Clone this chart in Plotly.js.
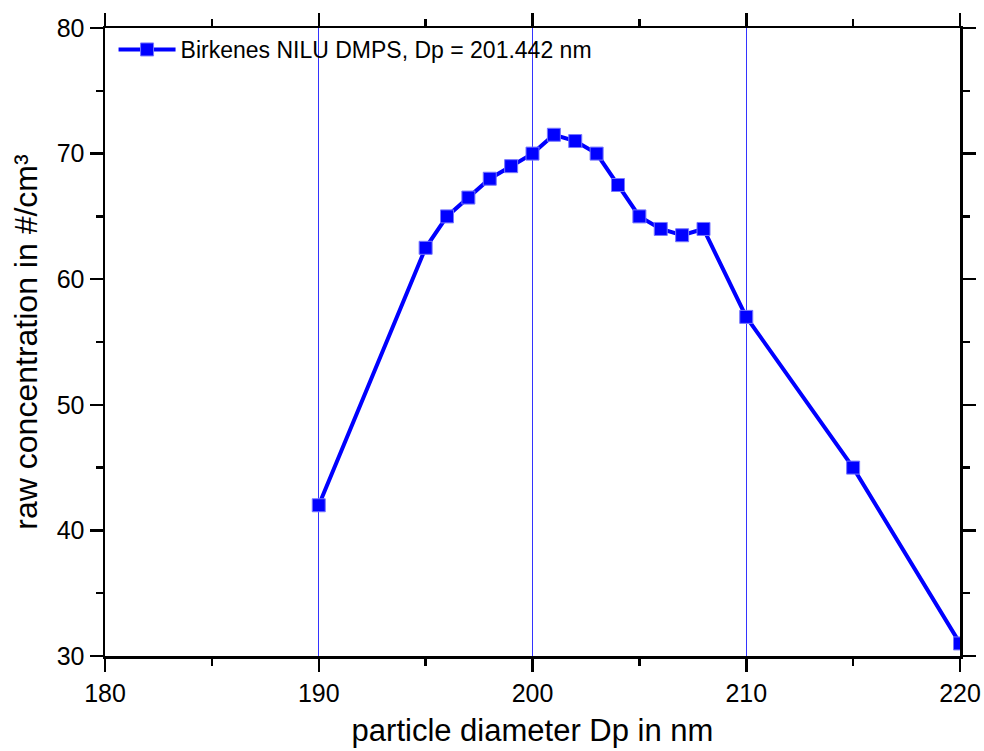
<!DOCTYPE html>
<html>
<head>
<meta charset="utf-8">
<script src="https://cdn.plot.ly/plotly-3.0.1.min.js"></script>
<style>html,body{margin:0;padding:0;background:#fff;}#chart{width:984px;height:751px;}</style>
</head>
<body>
<div id="chart"></div>
<script>
const diameters = [190, 195, 196, 197, 198, 199, 200, 201, 202, 203, 204, 205, 206, 207, 208, 210, 215, 220];
const concentrations = [42.0, 62.5, 65.0, 66.5, 68.0, 69.0, 70.0, 71.5, 71.0, 70.0, 67.5, 65.0, 64.0, 63.5, 64.0, 57.0, 45.0, 31.0];
const seriesName = 'Birkenes NILU DMPS, Dp = 201.442 nm';
const xTickValues = [180, 190, 200, 210, 220];
const yTickValues = [30, 40, 50, 60, 70, 80];

const font = '"Liberation Sans", Arial, sans-serif';

const trace = {
  x: diameters,
  y: concentrations,
  type: 'scatter',
  mode: 'lines+markers',
  name: seriesName,
  line: {color: '#0000ff', width: 4},
  marker: {symbol: 'square', size: 13, color: '#0000ff', line: {color: '#7777ff', width: 1}}
};

const axisCommon = {
  showline: true, linecolor: '#000', linewidth: 2.5, mirror: 'allticks',
  ticks: 'outside', ticklen: 13, tickwidth: 2.5, tickcolor: '#000',
  zeroline: false,
  tickfont: {family: font, size: 25, color: '#000'}
};

const layout = {
  width: 984, height: 751,
  margin: {l: 105, r: 24, t: 28, b: 95},
  paper_bgcolor: '#fff', plot_bgcolor: '#fff',
  showlegend: true,
  legend: {
    x: 0.01, y: 1.0, xanchor: 'left', yanchor: 'top',
    bgcolor: 'rgba(0,0,0,0)', borderwidth: 0,
    font: {family: font, size: 23, color: '#000'},
    itemwidth: 57
  },
  xaxis: Object.assign({}, axisCommon, {
    range: [180, 220], tickmode: 'array', tickvals: xTickValues,
    showgrid: true, gridcolor: '#3333ff', gridwidth: 1,
    minor: {dtick: 5, ticks: 'outside', ticklen: 7, tickwidth: 2.5, tickcolor: '#000', showgrid: false},
    title: {text: 'particle diameter Dp in nm', font: {family: font, size: 31, color: '#000'}, standoff: 14}
  }),
  yaxis: Object.assign({}, axisCommon, {
    range: [30, 80], tickmode: 'array', tickvals: yTickValues,
    showgrid: false,
    minor: {dtick: 5, ticks: 'outside', ticklen: 7, tickwidth: 2.5, tickcolor: '#000', showgrid: false},
    title: {text: 'raw concentration in #/cm³', font: {family: font, size: 32, color: '#000'}, standoff: 10}
  })
};

Plotly.newPlot('chart', [trace], layout, {displayModeBar: false, staticPlot: true});
</script>
</body>
</html>
